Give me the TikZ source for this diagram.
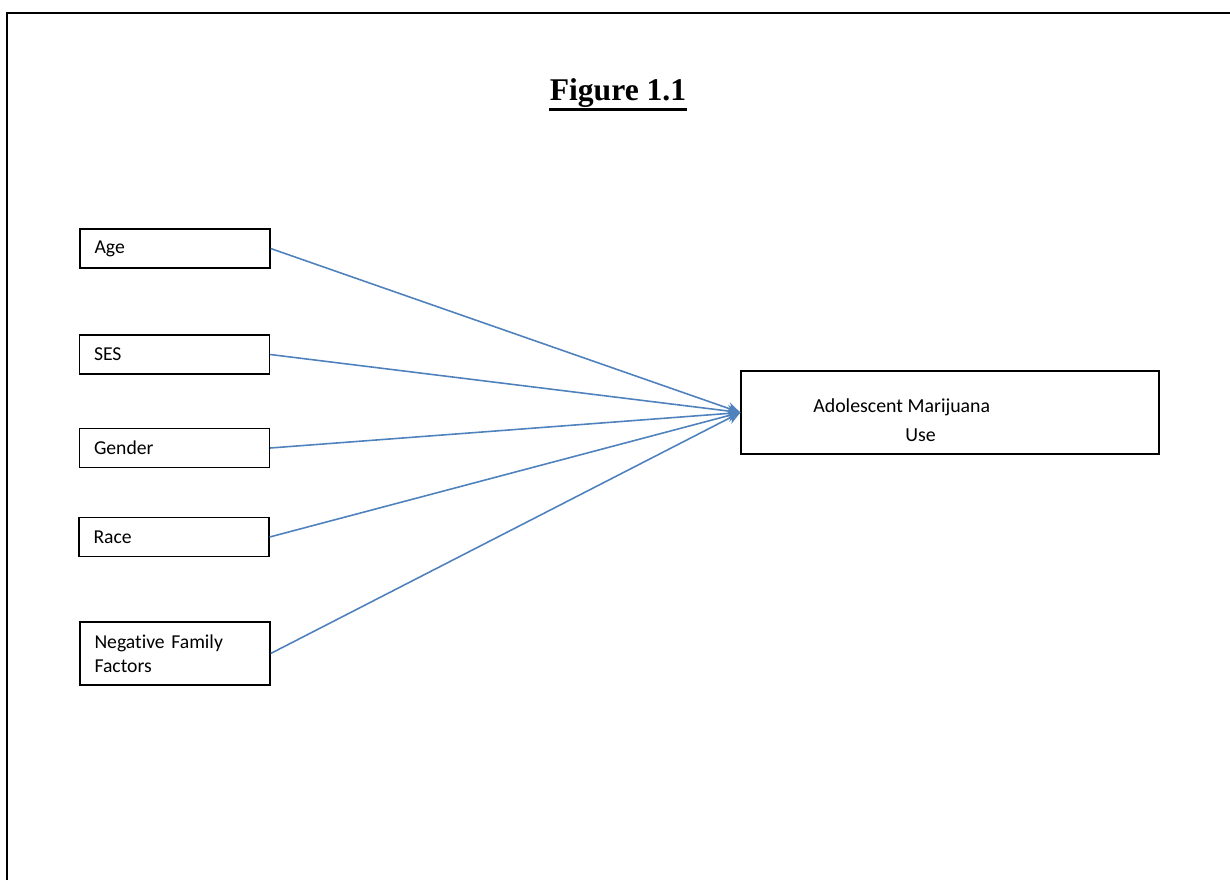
\documentclass[tikz,border=0pt]{standalone}
\usepackage{fontspec}
\setmainfont{Carlito}[Ligatures=NoCommon]
\newfontfamily\titlefont{Liberation Serif}
\usepackage{tikz}
\usetikzlibrary{arrows.meta}

\definecolor{linkblue}{RGB}{79,129,189}

\tikzset{
    factor/.style={draw, line width=0.8pt, minimum width=3.8cm, minimum height=0.78cm,
        text width=3.22cm, inner xsep=0.29cm, align=left,
        font=\fontsize{11.2pt}{13.6pt}\selectfont},
    outcome/.style={draw, line width=0.8pt, minimum width=8.36cm, minimum height=1.66cm},
    link/.style={linkblue, line width=0.9pt, -{Stealth[length=2.6mm, width=2.4mm, open]}}
}

\begin{document}
\begin{tikzpicture}[x=0.02cm, y=-0.02cm]
    \useasboundingbox (0,0) rectangle (1230,880);

    % Draw page frame (cut at right and bottom)
    \draw[line width=1.2pt] (7,880) -- (7,13) -- (1230,13);

    % Title
    \node[anchor=base, inner sep=0pt] (title) at (618,100)
        {\titlefont\fontsize{18pt}{22pt}\selectfont\textbf{Figure 1.1}};
    \draw[line width=1.7pt] ([yshift=-5.5pt]title.base west) -- ([yshift=-5.5pt]title.base east);

    % Draw the factor boxes
    \node[factor] (age) at (175,248.5) {Age};
    \node[factor] (ses) at (174.5,354.5) {SES};
    \node[factor] (gender) at (174.5,448) {Gender};
    \node[factor] (race) at (174,537) {Race};
    \node[factor, minimum height=1.26cm] (family) at (175,653.5) {Negative Family\\Factors};

    % Draw the outcome box
    \node[outcome] (use) at (950,412.5) {};
    \node[anchor=base west, align=left, inner sep=0pt,
          font=\fontsize{11.3pt}{16.4pt}\selectfont] (usetext) at (813,441)
        {Adolescent Marijuana\\\hspace*{1.84cm}Use};

    % Draw arrows to the outcome
    \draw[link] (age.east) -- (use.west);
    \draw[link] (ses.east) -- (use.west);
    \draw[link] (gender.east) -- (use.west);
    \draw[link] (race.east) -- (use.west);
    \draw[link] (family.east) -- (use.west);

\end{tikzpicture}
\end{document}
